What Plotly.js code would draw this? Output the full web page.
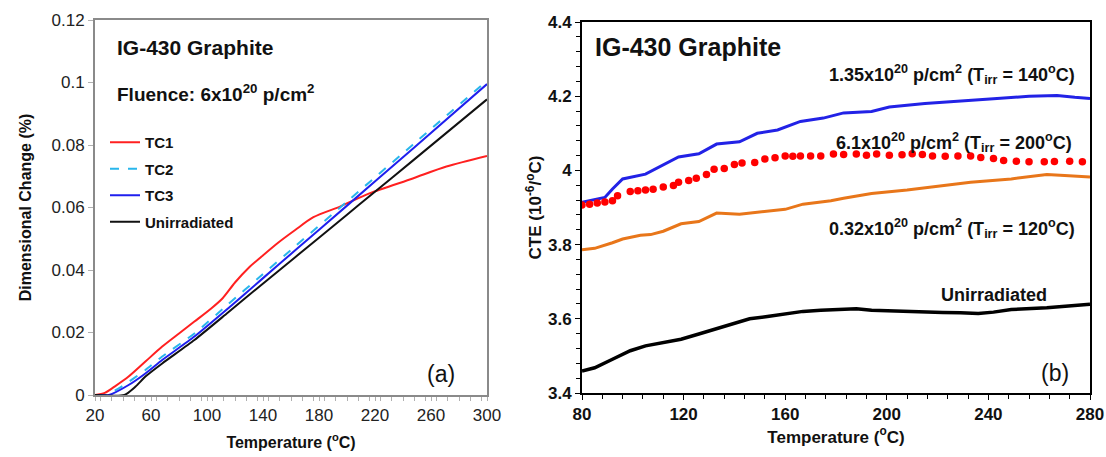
<!DOCTYPE html>
<html>
<head>
<meta charset="utf-8">
<script src="https://cdn.plot.ly/plotly-3.0.1.min.js"></script>
<style>html,body{margin:0;padding:0;background:#fff;}#chart{width:1106px;height:457px;}</style>
</head>
<body>
<div id="chart"></div>
<script>
// ---- Panel (a): dimensional change ----
const tTC1 = [20,27,34,44,56,68,80,91,103,111,120,130,139,151,163,176,195,216,247,271,300];
const vTC1 = [0,0.0007,0.0027,0.0059,0.0107,0.0155,0.0197,0.0235,0.0277,0.0309,0.036,0.0408,0.0443,0.0488,0.0528,0.0569,0.0603,0.0645,0.0693,0.0731,0.0765];
const tTC2 = [22,28,39,56,68,91,115,139,163,200,247,300];
const vTC2 = [0,0,0.0027,0.008,0.0123,0.0197,0.029,0.0383,0.0476,0.0619,0.0801,0.1006];
const tTC3 = [22,30,44,56,68,91,115,139,163,200,247,300];
const vTC3 = [0,0,0.0032,0.0069,0.0112,0.0187,0.0277,0.037,0.0463,0.0606,0.0788,0.0995];
const tUnA = [20,41,49,56,68,91,115,139,163,200,216,247,300];
const vUnA = [0,0,0.0027,0.0059,0.0101,0.0176,0.0264,0.0353,0.0441,0.0577,0.0636,0.075,0.0946];

// ---- Panel (b): CTE ----
const tBlue = [80,89,92,96,105,112,118,126,133,142,149,157,166,175,183,194,201,215,229,242,256,267,274,280];
const vBlue = [3.914,3.927,3.95,3.977,3.99,4.014,4.036,4.045,4.071,4.077,4.1,4.109,4.132,4.141,4.155,4.159,4.171,4.18,4.186,4.193,4.2,4.202,4.197,4.194];
const tRed = [80,83,86,89,92,94,99,102,105,108,112,116,118,122,125,129,132,136,140,143,148,152,156,160,163,166,170,174,179,183,188,192,196,201,206,210,214,218,223,228,233,237,242,246,251,256,262,266,272,277];
const vRed = [3.907,3.909,3.912,3.915,3.918,3.932,3.943,3.945,3.947,3.949,3.955,3.959,3.968,3.973,3.979,3.989,4.003,4.005,4.016,4.02,4.021,4.031,4.034,4.039,4.038,4.039,4.039,4.039,4.044,4.043,4.044,4.041,4.044,4.041,4.042,4.045,4.043,4.039,4.038,4.039,4.039,4.035,4.032,4.027,4.025,4.023,4.023,4.024,4.025,4.023];
const tOrange = [80,85,92,96,103,107,112,119,126,133,142,153,160,167,178,183,194,208,222,233,249,263,270,280];
const vOrange = [3.786,3.79,3.805,3.815,3.825,3.827,3.836,3.856,3.862,3.885,3.882,3.891,3.895,3.909,3.918,3.925,3.938,3.947,3.959,3.968,3.977,3.989,3.986,3.982];
const tUnB = [80,85,92,99,105,112,119,126,133,140,146,153,160,167,174,181,188,194,201,208,222,229,236,242,249,263,277,280];
const vUnB = [3.459,3.468,3.491,3.514,3.527,3.536,3.545,3.559,3.573,3.586,3.6,3.606,3.614,3.62,3.623,3.625,3.627,3.623,3.621,3.619,3.617,3.616,3.614,3.618,3.625,3.63,3.636,3.639];

const NARROW = "Liberation Sans Narrow, Arial Narrow, Liberation Sans, Arial, sans-serif";
const REG = "Liberation Sans, Arial, sans-serif";

const traces = [
  {x:tTC1, y:vTC1, name:'TC1', legendgroup:'a1', mode:'lines', line:{color:'#ff2020', width:2, shape:'spline', smoothing:0.8}, xaxis:'x', yaxis:'y'},
  {x:tTC2, y:vTC2, name:'TC2', legendgroup:'a2', mode:'lines', line:{color:'#29b6ec', width:2, dash:'dash', shape:'spline', smoothing:0.6}, xaxis:'x', yaxis:'y'},
  {x:tTC3, y:vTC3, name:'TC3', legendgroup:'a3', mode:'lines', line:{color:'#1f1fee', width:2, shape:'spline', smoothing:0.6}, xaxis:'x', yaxis:'y'},
  {x:tUnA, y:vUnA, name:'Unirradiated', legendgroup:'a4', mode:'lines', line:{color:'#111111', width:2, shape:'spline', smoothing:0.6}, xaxis:'x', yaxis:'y'},
  {x:tBlue, y:vBlue, mode:'lines', showlegend:false, line:{color:'#2222e6', width:3}, xaxis:'x2', yaxis:'y2'},
  {x:tOrange, y:vOrange, mode:'lines', showlegend:false, line:{color:'#e8761a', width:3}, xaxis:'x2', yaxis:'y2'},
  {x:tUnB, y:vUnB, mode:'lines', showlegend:false, line:{color:'#000000', width:3.5}, xaxis:'x2', yaxis:'y2'},
  {x:tRed, y:vRed, mode:'markers', showlegend:false, marker:{color:'#ff0000', size:7.5}, xaxis:'x2', yaxis:'y2'}
];

const W = 1106, H = 457;
const px = v => v / W, py = v => 1 - v / H;

const layout = {
  width:W, height:H, margin:{l:0,r:0,t:0,b:0},
  paper_bgcolor:'#fff', plot_bgcolor:'#fff',
  showlegend:true,
  legend:{x:px(105), y:py(126), xanchor:'left', yanchor:'top', bgcolor:'rgba(0,0,0,0)',
          font:{family:NARROW, size:15, color:'#111', weight:'bold'}, tracegroupgap:4, traceorder:'grouped', itemwidth:30},
  xaxis:{domain:[px(95), px(487)], range:[20,300], tick0:20, dtick:40, ticks:'outside', ticklen:4, tickcolor:'#b0b0b0',
         minor:{dtick:8, ticks:'outside', ticklen:4, tickcolor:'#b0b0b0'},
         showline:true, mirror:true, linecolor:'#8a8a8a', linewidth:2, showgrid:false, zeroline:false,
         tickfont:{family:NARROW, size:17, color:'#222'},
         title:{text:'Temperature (<sup>o</sup>C)', font:{family:NARROW, size:16, color:'#111', weight:'bold'}, standoff:12},
         anchor:'y'},
  yaxis:{domain:[1-395/H, 1-20/H], range:[0,0.12], dtick:0.02, ticks:'outside', ticklen:5, tickcolor:'#b0b0b0',
         showline:true, mirror:true, linecolor:'#8a8a8a', linewidth:2, showgrid:false, zeroline:false,
         tickfont:{family:NARROW, size:17, color:'#222'},
         title:{text:'Dimensional Change (%)', font:{family:NARROW, size:16, color:'#111', weight:'bold'}, standoff:16},
         anchor:'x'},
  xaxis2:{domain:[px(582), px(1090)], range:[80,280], tick0:80, dtick:40, ticks:'outside', ticklen:5, tickcolor:'#000',
          minor:{dtick:8, ticks:'outside', ticklen:4, tickcolor:'#000'},
          showline:true, mirror:true, linecolor:'#000', linewidth:2, showgrid:false, zeroline:false,
          tickfont:{family:NARROW, size:17, color:'#111', weight:'bold'},
          title:{text:'Temperature (<sup>o</sup>C)', font:{family:NARROW, size:17, color:'#111', weight:'bold'}, standoff:6},
          anchor:'y2'},
  yaxis2:{domain:[1-393/H, 1-22/H], range:[3.4,4.4], dtick:0.2, ticks:'outside', ticklen:5, tickcolor:'#000',
          minor:{dtick:0.04, ticks:'outside', ticklen:4, tickcolor:'#000'},
          showline:true, mirror:true, linecolor:'#000', linewidth:2, showgrid:false, zeroline:false,
          tickfont:{family:NARROW, size:17, color:'#111', weight:'bold'},
          title:{text:'CTE (10<sup>-6</sup>/<sup>o</sup>C)', font:{family:NARROW, size:17, color:'#111', weight:'bold'}, standoff:2},
          anchor:'x2'},
  annotations:[
    {xref:'paper', yref:'paper', x:px(115), y:py(48), xanchor:'left', yanchor:'middle', showarrow:false,
     text:'IG-430 Graphite', font:{family:NARROW, size:21, color:'#111', weight:'bold'}},
    {xref:'paper', yref:'paper', x:px(115), y:py(93), xanchor:'left', yanchor:'middle', showarrow:false,
     text:'Fluence: 6x10<sup>20</sup> p/cm<sup>2</sup>', font:{family:NARROW, size:19, color:'#111', weight:'bold'}},
    {xref:'paper', yref:'paper', x:px(441), y:py(374), xanchor:'center', yanchor:'middle', showarrow:false,
     text:'(a)', font:{family:REG, size:23, color:'#111'}},
    {xref:'paper', yref:'paper', x:px(593), y:py(47), xanchor:'left', yanchor:'middle', showarrow:false,
     text:'IG-430 Graphite', font:{family:NARROW, size:25, color:'#111', weight:'bold'}},
    {xref:'paper', yref:'paper', x:px(1077), y:py(74), xanchor:'right', yanchor:'middle', showarrow:false,
     text:'1.35x10<sup>20</sup> p/cm<sup>2</sup> (T<sub>irr</sub> = 140<sup>o</sup>C)', font:{family:NARROW, size:18, color:'#111', weight:'bold'}},
    {xref:'paper', yref:'paper', x:px(1074), y:py(142), xanchor:'right', yanchor:'middle', showarrow:false,
     text:'6.1x10<sup>20</sup> p/cm<sup>2</sup> (T<sub>irr</sub> = 200<sup>o</sup>C)', font:{family:NARROW, size:18, color:'#111', weight:'bold'}},
    {xref:'paper', yref:'paper', x:px(1077), y:py(228), xanchor:'right', yanchor:'middle', showarrow:false,
     text:'0.32x10<sup>20</sup> p/cm<sup>2</sup> (T<sub>irr</sub> = 120<sup>o</sup>C)', font:{family:NARROW, size:18, color:'#111', weight:'bold'}},
    {xref:'paper', yref:'paper', x:px(994), y:py(295), xanchor:'center', yanchor:'middle', showarrow:false,
     text:'Unirradiated', font:{family:NARROW, size:18, color:'#111', weight:'bold'}},
    {xref:'paper', yref:'paper', x:px(1055), y:py(373), xanchor:'center', yanchor:'middle', showarrow:false,
     text:'(b)', font:{family:REG, size:23, color:'#111'}}
  ]
};

Plotly.newPlot('chart', traces, layout, {staticPlot:true, displayModeBar:false});
</script>
</body>
</html>
